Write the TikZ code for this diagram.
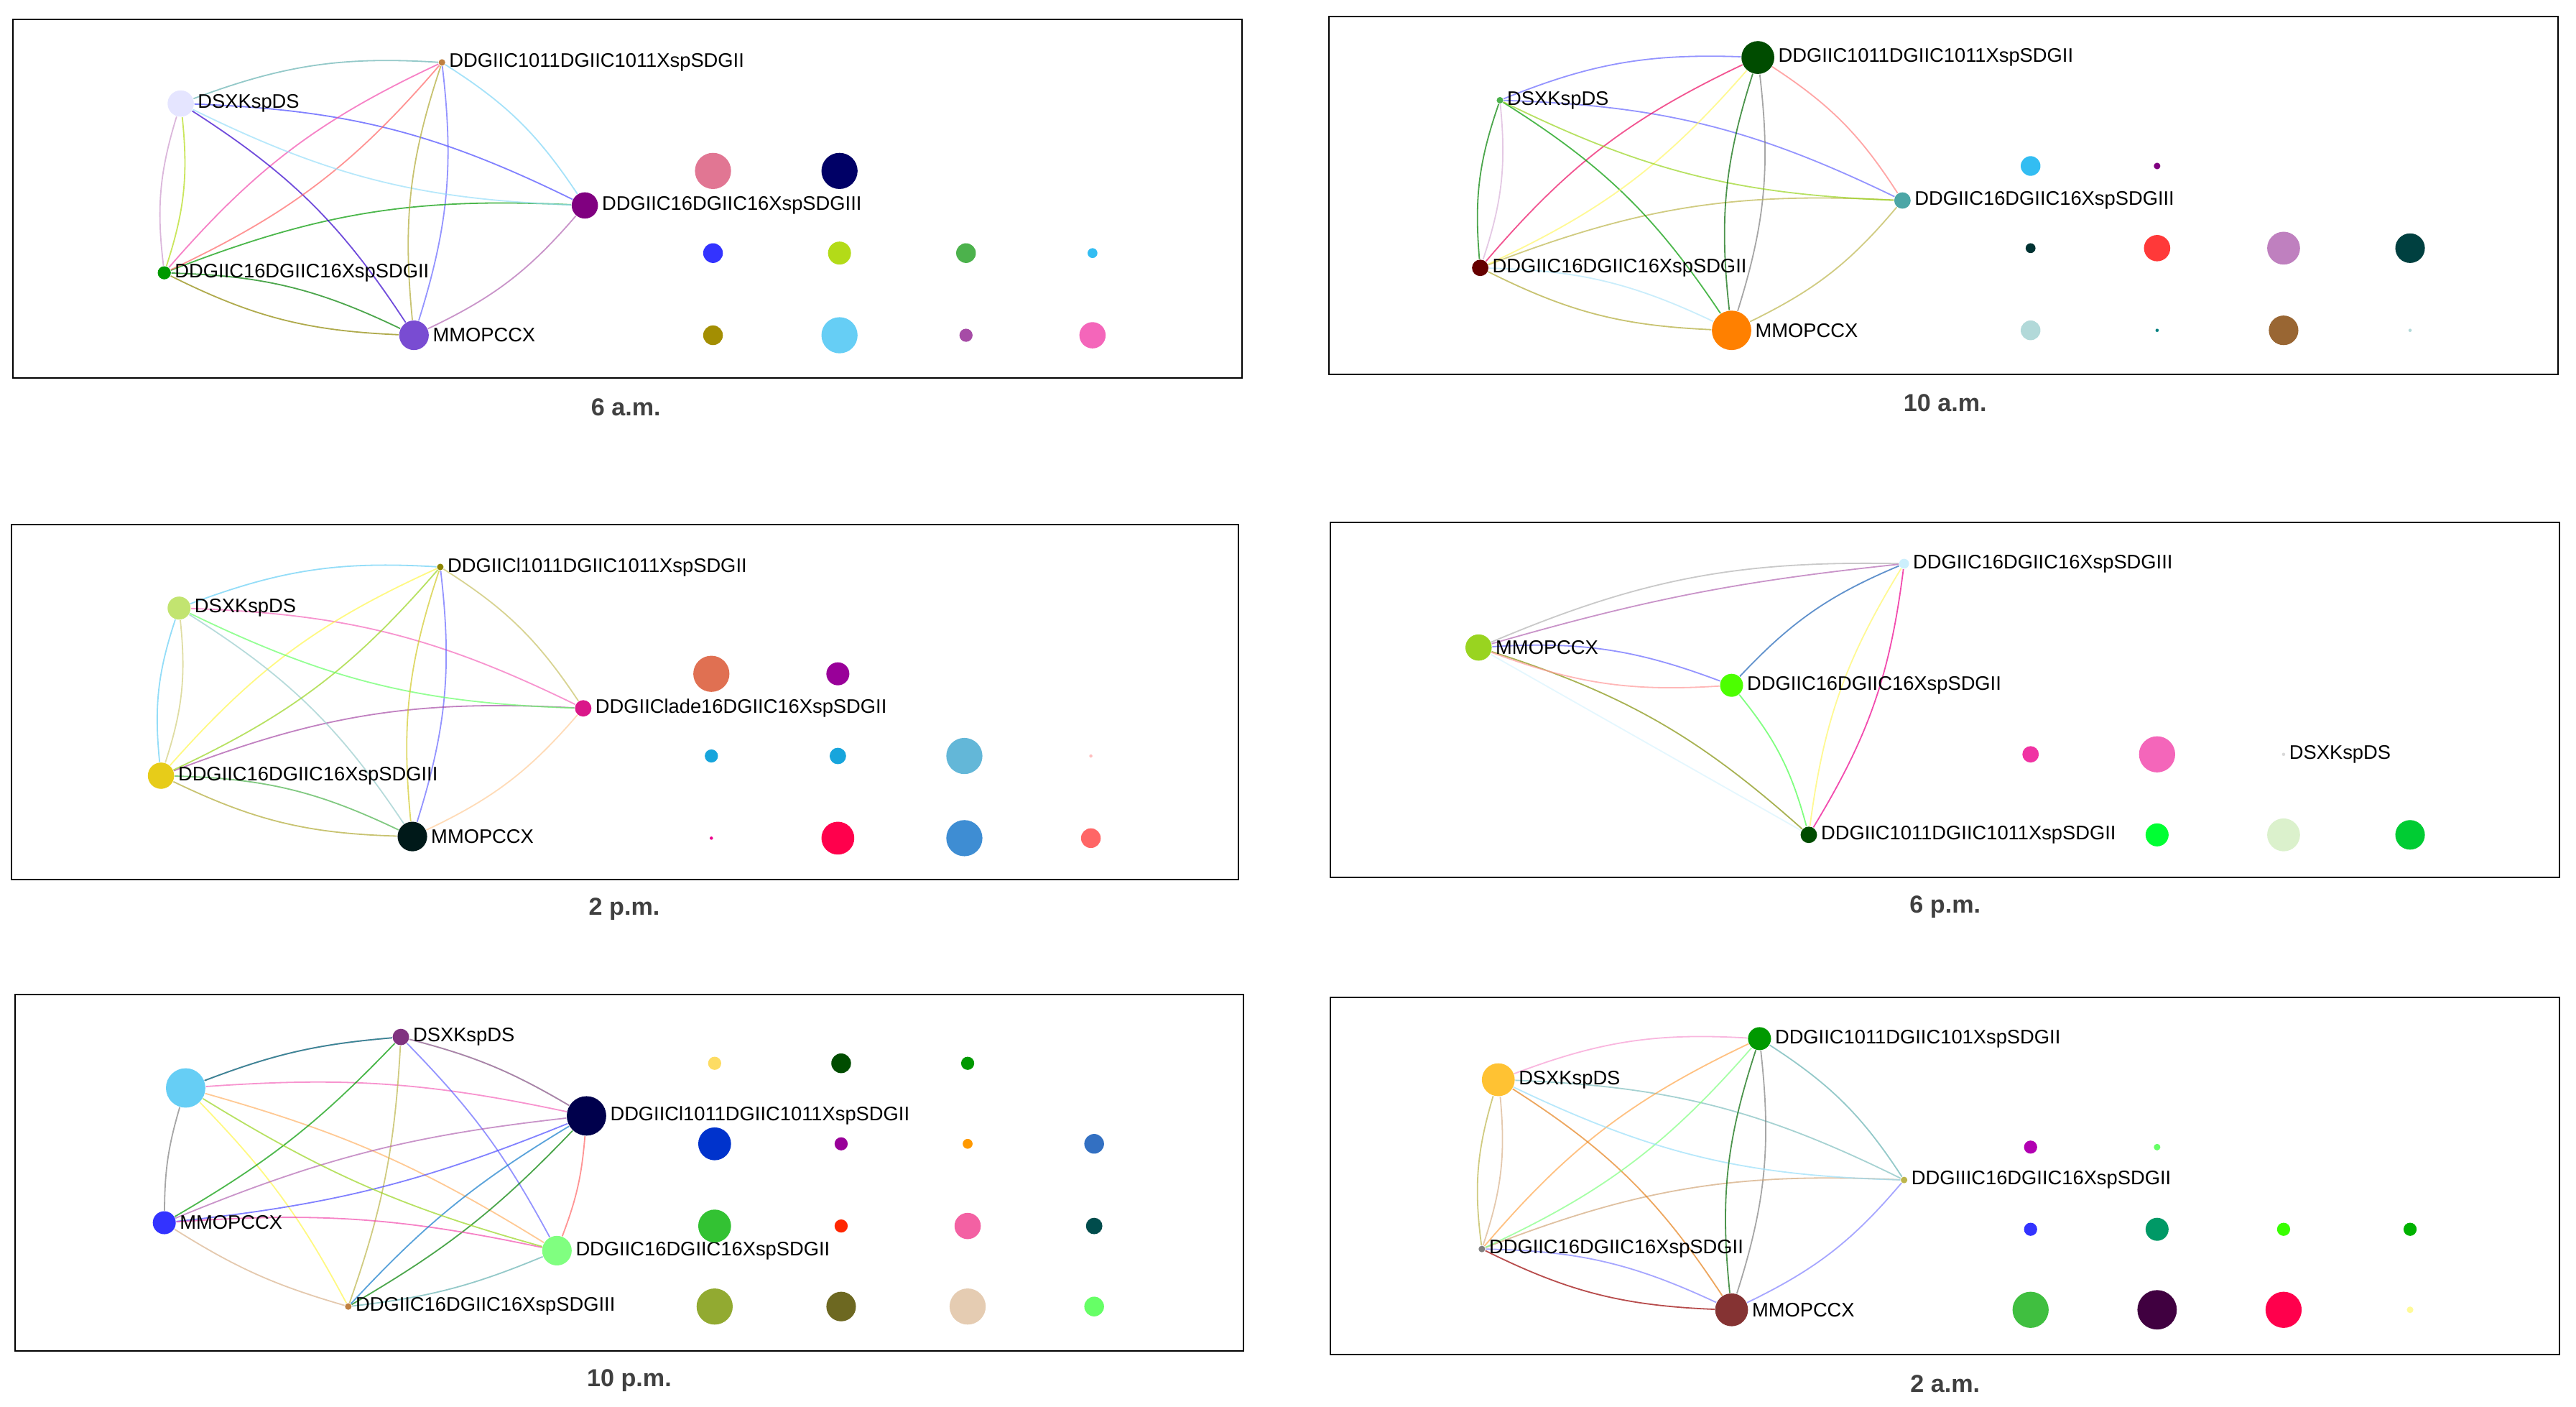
\documentclass[tikz,border=0pt]{standalone}
\usepackage{fontspec}
\setmainfont{Liberation Sans}
\begin{document}
\begin{tikzpicture}[x=0.02cm,y=-0.02cm,
  panel/.style={draw=black,line width=0.5pt},
  title/.style={font=\fontsize{8.5}{10}\selectfont\bfseries,text=black!75},
  lab/.style={anchor=west,inner sep=1pt,font=\fontsize{6.8}{8}\selectfont},
  v/.style={circle,inner sep=0pt,minimum size=#1*0.04cm},
  e/.style={line width=0.45pt,opacity=0.7,bend left=12}]
\useasboundingbox (0,0) rectangle (1568,856);
% ---------- panels
\draw[panel] (8,12) rectangle (756,230);
\draw[panel] (809,10) rectangle (1557,228);
\draw[panel] (7,319) rectangle (754,535);
\draw[panel] (810,318) rectangle (1558,534);
\draw[panel] (9,605) rectangle (757,822);
\draw[panel] (810,607) rectangle (1558,824);
\node[title] (t1) at (381,248) {6 a.m.};
\node[title] (t2) at (1184,245) {10 a.m.};
\node[title] (t3) at (380,553) {2 p.m.};
\node[title] (t4) at (1184,552) {6 p.m.};
\node[title] (t5) at (383,840) {10 p.m.};
\node[title] (t6) at (1184,842) {2 a.m.};
% ---------- panel 1
\node[v=8,fill=blue!10] (a1) at (110,63) {};
\node[v=2,fill=brown] (a2) at (269,38) {};
\node[v=8,fill=violet] (a3) at (356,125) {};
\node[v=4,fill=green!60!black] (a4) at (100,166) {};
\node[v=9,fill=blue!50!violet!70] (a5) at (252,204) {};
\foreach \p/\q/\c in {a1/a2/teal!60,a2/a3/cyan!50,a3/a5/violet!60,a5/a4/olive,a4/a1/violet!40,a1/a3/blue!70,a2/a5/blue!60,a4/a2/magenta!70,a4/a3/green!60!black,a1/a5/blue!60!violet,a2/a4/red!60,a3/a1/cyan!40,a5/a2/olive!70,a4/a5/green!50!black,a1/a4/yellow!70!green}
  \draw[e,\c] (\p) to (\q);
\node[lab] (la1) at (a1.east) {DSXKspDS};
\node[lab] (la2) at (a2.east) {DDGIIC1011DGIIC1011XspSDGII};
\node[lab] (la3) at (a3.east) {DDGIIC16DGIIC16XspSDGIII};
\node[lab] (la4) at (a4.east) {DDGIIC16DGIIC16XspSDGII};
\node[lab] (la5) at (a5.east) {MMOPCCX};
\node[v=11,fill=magenta!50!brown!80] (d11) at (434,104) {};
\node[v=11,fill=blue!40!black] (d12) at (511,104) {};
\node[v=6,fill=blue!80] (d13) at (434,154) {};
\node[v=7,fill=yellow!70!green] (d14) at (511,154) {};
\node[v=6,fill=green!40!gray] (d15) at (588,154) {};
\node[v=3,fill=cyan!80] (d16) at (665,154) {};
\node[v=6,fill=olive!80!orange] (d17) at (434,204) {};
\node[v=11,fill=cyan!60] (d18) at (511,204) {};
\node[v=4,fill=violet!70] (d19) at (588,204) {};
\node[v=8,fill=magenta!60] (d110) at (665,204) {};
% ---------- panel 2
\node[v=10,fill=black!70!green] (b1) at (1070,35) {};
\node[v=2,fill=green!40!gray] (b2) at (913,61) {};
\node[v=5,fill=teal!70] (b3) at (1158,122) {};
\node[v=5,fill=red!40!black] (b4) at (901,163) {};
\node[v=12,fill=orange] (b5) at (1054,201) {};
\foreach \p/\q/\c in {b2/b1/blue!60,b1/b3/red!50,b3/b5/olive!60,b5/b4/olive!70,b4/b2/green!50!black,b2/b3/blue!60,b1/b5/gray,b4/b1/magenta!60!red,b4/b3/olive!60,b2/b5/green!60!black,b1/b4/yellow!60,b3/b2/yellow!60!green,b5/b1/green!40!black,b4/b5/cyan!30,b2/b4/violet!30}
  \draw[e,\c] (\p) to (\q);
\node[lab] (lb1) at (b1.east) {DDGIIC1011DGIIC1011XspSDGII};
\node[lab] (lb2) at (b2.east) {DSXKspDS};
\node[lab] (lb3) at (b3.east) {DDGIIC16DGIIC16XspSDGIII};
\node[lab] (lb4) at (b4.east) {DDGIIC16DGIIC16XspSDGII};
\node[lab] (lb5) at (b5.east) {MMOPCCX};
\node[v=6,fill=cyan!80] (d21) at (1236,101) {};
\node[v=2,fill=violet] (d22) at (1313,101) {};
\node[v=3,fill=black!60!teal] (d23) at (1236,151) {};
\node[v=8,fill=red!70!pink] (d24) at (1313,151) {};
\node[v=10,fill=violet!50] (d25) at (1390,151) {};
\node[v=9,fill=teal!50!black] (d26) at (1467,151) {};
\node[v=6,fill=teal!30] (d27) at (1236,201) {};
\node[v=1,fill=teal] (d28) at (1313,201) {};
\node[v=9,fill=brown!80!black] (d29) at (1390,201) {};
\node[v=1,fill=teal!30] (d210) at (1467,201) {};
% ---------- panel 3
\node[v=2,fill=olive] (c1) at (268,345) {};
\node[v=7,fill=yellow!60!green!60] (c2) at (109,370) {};
\node[v=5,fill=magenta!80!violet] (c3) at (355,431) {};
\node[v=8,fill=yellow!80!orange!90!black] (c4) at (98,472) {};
\node[v=9,fill=black!80!teal] (c5) at (251,509) {};
\foreach \p/\q/\c in {c2/c1/cyan!60,c1/c3/olive!50,c3/c5/orange!40,c5/c4/olive!70,c4/c2/cyan!60,c2/c3/magenta!60,c1/c5/blue!60,c4/c1/yellow!70,c4/c3/violet!70,c2/c5/teal!40,c1/c4/yellow!60!green,c3/c2/green!60,c5/c1/yellow!80!black,c4/c5/green!40!gray,c2/c4/olive!40}
  \draw[e,\c] (\p) to (\q);
\node[lab] (lc1) at (c1.east) {DDGIICl1011DGIIC1011XspSDGII};
\node[lab] (lc2) at (c2.east) {DSXKspDS};
\node[lab] (lc3) at (c3.east) {DDGIIClade16DGIIC16XspSDGII};
\node[lab] (lc4) at (c4.east) {DDGIIC16DGIIC16XspSDGIII};
\node[lab] (lc5) at (c5.east) {MMOPCCX};
\node[v=11,fill=red!40!brown!80] (d31) at (433,410) {};
\node[v=7,fill=violet!80!magenta] (d32) at (510,410) {};
\node[v=4,fill=cyan!80!teal] (d33) at (433,460) {};
\node[v=5,fill=cyan!80!teal] (d34) at (510,460) {};
\node[v=11,fill=cyan!60!teal!70] (d35) at (587,460) {};
\node[v=1,fill=pink] (d36) at (664,460) {};
\node[v=1,fill=magenta] (d37) at (433,510) {};
\node[v=10,fill=red!70!magenta] (d38) at (510,510) {};
\node[v=11,fill=cyan!60!blue!80] (d39) at (587,510) {};
\node[v=6,fill=red!60] (d310) at (664,510) {};
% ---------- panel 4
\node[v=3,fill=cyan!20] (g1) at (1159,343) {};
\node[v=8,fill=yellow!60!green] (g2) at (900,394) {};
\node[v=7,fill=green!70!yellow] (g3) at (1054,417) {};
\node[v=5,fill=black!70!green] (g4) at (1101,508) {};
\node[v=1,fill=gray!30] (g5) at (1390,459) {};
\foreach \p/\q/\c in {g2/g1/gray!60,g3/g1/cyan!40!blue,g2/g3/blue!60,g2/g4/olive!80!green,g1/g4/magenta,g3/g4/green!70,g4/g1/yellow!60,g3/g2/red!40}
  \draw[e,\c] (\p) to (\q);
\draw[e,bend left=0,cyan!15] (g2) to (g4);
\draw[e,bend left=5,violet!60] (g2) to (g1);
\node[lab] (lg1) at (g1.east) {DDGIIC16DGIIC16XspSDGIII};
\node[lab] (lg2) at (g2.east) {MMOPCCX};
\node[lab] (lg3) at (g3.east) {DDGIIC16DGIIC16XspSDGII};
\node[lab] (lg4) at (g4.east) {DDGIIC1011DGIIC1011XspSDGII};
\node[lab] (lg5) at (g5.east) {DSXKspDS};
\node[v=5,fill=magenta!80] (d41) at (1236,459) {};
\node[v=11,fill=magenta!60] (d42) at (1313,459) {};
\node[v=7,fill=green!80!cyan] (d43) at (1313,508) {};
\node[v=10,fill=yellow!30!green!20] (d44) at (1390,508) {};
\node[v=9,fill=green!60!teal] (d45) at (1467,508) {};
% ---------- panel 5
\node[v=12,fill=cyan!60] (f0) at (113,662) {};
\node[v=5,fill=violet!60!gray] (f1) at (244,631) {};
\node[v=12,fill=blue!30!black] (f2) at (357,679) {};
\node[v=7,fill=blue!80] (f3) at (100,744) {};
\node[v=9,fill=green!50] (f4) at (339,761) {};
\node[v=2,fill=brown] (f5) at (212,795) {};
\foreach \p/\q/\c in {f0/f1/violet!60,f1/f2/green!40,f2/f4/red!60,f4/f5/teal!60,f5/f3/brown!60,f3/f0/gray,f0/f2/magenta!60,f0/f4/orange!60,f0/f5/yellow!70,f1/f3/green!60!black,f1/f4/blue!60,f1/f5/olive!60,f2/f3/blue!70,f2/f5/green!50!black,f3/f4/magenta!70,f0/f1/teal,f1/f2/violet!70,f3/f2/violet!60,f5/f2/cyan!60!blue,f4/f0/yellow!60!green}
  \draw[e,bend left=8,\c] (\p) to (\q);
\node[lab] (lf1) at (f1.east) {DSXKspDS};
\node[lab] (lf2) at (f2.east) {DDGIICl1011DGIIC1011XspSDGII};
\node[lab] (lf3) at (f3.east) {MMOPCCX};
\node[lab] (lf4) at (f4.east) {DDGIIC16DGIIC16XspSDGII};
\node[lab] (lf5) at (f5.east) {DDGIIC16DGIIC16XspSDGIII};
\node[v=4,fill=yellow!60!orange!60] (d51) at (435,647) {};
\node[v=6,fill=green!30!black] (d52) at (512,647) {};
\node[v=4,fill=green!60!black] (d53) at (589,647) {};
\node[v=10,fill=blue!60!teal] (d54) at (435,696) {};
\node[v=4,fill=violet!80!magenta] (d55) at (512,696) {};
\node[v=3,fill=orange!80!yellow] (d56) at (589,696) {};
\node[v=6,fill=blue!40!teal!80] (d57) at (666,696) {};
\node[v=10,fill=green!70!black!80] (d58) at (435,746) {};
\node[v=4,fill=red!70!orange] (d59) at (512,746) {};
\node[v=8,fill=magenta!50!pink] (d510) at (589,746) {};
\node[v=5,fill=teal!60!black] (d511) at (666,746) {};
\node[v=11,fill=olive!70!green!80] (d512) at (435,795) {};
\node[v=9,fill=olive!70!black] (d513) at (512,795) {};
\node[v=11,fill=brown!40!white] (d514) at (589,795) {};
\node[v=6,fill=green!60] (d515) at (666,795) {};
% ---------- panel 6
\node[v=7,fill=green!60!black] (h1) at (1071,632) {};
\node[v=10,fill=orange!60!yellow!80] (h2) at (912,657) {};
\node[v=2,fill=olive!60] (h3) at (1159,718) {};
\node[v=2,fill=gray] (h4) at (902,760) {};
\node[v=10,fill=red!40!black!80] (h5) at (1054,797) {};
\foreach \p/\q/\c in {h2/h1/magenta!40,h1/h3/teal!60,h3/h5/blue!50,h5/h4/red!60!black,h4/h2/olive!60,h2/h3/teal!50,h1/h5/gray,h4/h1/orange!70,h4/h3/brown!70,h2/h5/orange!60!brown,h1/h4/green!50,h3/h2/cyan!40,h5/h1/green!40!black,h4/h5/blue!50,h2/h4/brown!60}
  \draw[e,\c] (\p) to (\q);
\node[lab] (lh1) at (h1.east) {DDGIIC1011DGIIC101XspSDGII};
\node[lab] (lh2) at (h2.east) {DSXKspDS};
\node[lab] (lh3) at (h3.east) {DDGIIIC16DGIIC16XspSDGII};
\node[lab] (lh4) at (h4.east) {DDGIIC16DGIIC16XspSDGII};
\node[lab] (lh5) at (h5.east) {MMOPCCX};
\node[v=4,fill=violet!60!magenta] (d61) at (1236,698) {};
\node[v=2,fill=green!60] (d62) at (1313,698) {};
\node[v=4,fill=blue!80] (d63) at (1236,748) {};
\node[v=7,fill=teal!80!green] (d64) at (1313,748) {};
\node[v=4,fill=green!70!lime] (d65) at (1390,748) {};
\node[v=4,fill=green!70!black] (d66) at (1467,748) {};
\node[v=11,fill=green!50!gray] (d67) at (1236,797) {};
\node[v=12,fill=violet!50!black] (d68) at (1313,797) {};
\node[v=11,fill=red!70!magenta] (d69) at (1390,797) {};
\node[v=2,fill=yellow!40] (d610) at (1467,797) {};
\end{tikzpicture}
\end{document}
